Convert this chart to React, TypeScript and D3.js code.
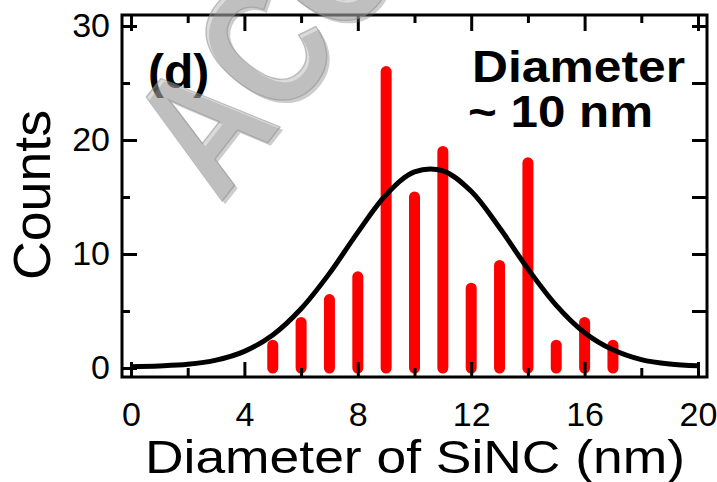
import * as d3 from "d3";
import { useEffect, useRef } from "react";

// histogram of SiNC diameters
const diameters = [5, 6, 7, 8, 9, 10, 11, 12, 13, 14, 15, 16, 17];
const counts = [2, 4, 6, 8, 26, 15, 19, 7, 9, 18, 2, 4, 2];

// gaussian fit at each nm
const fitX = [0, 1, 2, 3, 4, 5, 6, 7, 8, 9, 10, 11, 12, 13, 14, 15, 16, 17, 18, 19, 20];
const fitY = [0.12, 0.18, 0.32, 0.69, 1.46, 2.9, 5.2, 8.3, 11.9, 15.2, 17.2, 17.3, 15.5, 12.3, 8.7, 5.5, 3.1, 1.6, 0.74, 0.35, 0.19];

const xMajor = [0, 4, 8, 12, 16, 20];
const xMinor = [2, 6, 10, 14, 18];
const yMajor = [0, 10, 20, 30];
const yMinor = [5, 15, 25];

const font = "'Liberation Sans', Arial, Helvetica, sans-serif";

function App() {
  const svgRef = useRef<SVGSVGElement>(null);

  useEffect(() => {
    const svg = d3.select(svgRef.current);
    svg.selectAll("*").remove();

    const left = 122, right = 707, top = 15, bottom = 377;

    const x = d3.scaleLinear().domain([0, 20]).range([131, 698]);
    const y = d3.scaleLinear().domain([0, 30]).range([368, 26]);

    // bars
    svg.append("g")
      .selectAll("line")
      .data(diameters)
      .join("line")
      .attr("x1", (d) => x(d))
      .attr("x2", (d) => x(d))
      .attr("y1", y(0))
      .attr("y2", (d, i) => y(counts[i]))
      .attr("stroke", "#ff0000")
      .attr("stroke-width", 11)
      .attr("stroke-linecap", "round");

    // fit curve
    const fitLine = d3.line<number>()
      .x((d, i) => x(fitX[i]))
      .y((d) => y(d))
      .curve(d3.curveCatmullRom);

    svg.append("path")
      .datum(fitY)
      .attr("d", fitLine)
      .attr("fill", "none")
      .attr("stroke", "#000")
      .attr("stroke-width", 5);

    // axes, ticks inward
    const fmt = d3.format("d");
    const addAxis = (axis: any, tx: number, ty: number, labels: boolean) => {
      const g = svg.append("g").attr("transform", `translate(${tx},${ty})`).call(axis);
      g.select(".domain").remove();
      g.selectAll("line").attr("stroke", "#000").attr("stroke-width", 3);
      g.selectAll("text")
        .attr("fill", "#000")
        .style("font-family", font)
        .style("font-size", "34px");
      if (!labels) g.selectAll("text").remove();
      return g;
    };

    addAxis(d3.axisBottom(x).tickValues(xMajor).tickSize(-15).tickPadding(25).tickFormat(fmt), 0, bottom, true);
    addAxis(d3.axisBottom(x).tickValues(xMinor).tickSize(-9), 0, bottom, false);
    addAxis(d3.axisTop(x).tickValues(xMajor).tickSize(-16), 0, top, false);
    addAxis(d3.axisTop(x).tickValues(xMinor).tickSize(-8), 0, top, false);
    addAxis(d3.axisLeft(y).tickValues(yMajor).tickSize(-15).tickPadding(12).tickFormat(fmt), left, 0, true);
    addAxis(d3.axisLeft(y).tickValues(yMinor).tickSize(-8), left, 0, false);
    addAxis(d3.axisRight(y).tickValues([5, 10, 15, 20, 25, 30]).tickSize(-15), right, 0, false);

    svg.append("rect")
      .attr("x", left)
      .attr("y", top)
      .attr("width", right - left)
      .attr("height", bottom - top)
      .attr("fill", "none")
      .attr("stroke", "#000")
      .attr("stroke-width", 3);

    // labels
    svg.append("text")
      .attr("transform", "translate(50,195) rotate(-90)")
      .attr("text-anchor", "middle")
      .attr("textLength", 170)
      .attr("lengthAdjust", "spacingAndGlyphs")
      .style("font-family", font)
      .style("font-size", "52px")
      .text("Counts");

    svg.append("text")
      .attr("x", 415)
      .attr("y", 473)
      .attr("text-anchor", "middle")
      .attr("textLength", 540)
      .attr("lengthAdjust", "spacingAndGlyphs")
      .style("font-family", font)
      .style("font-size", "46px")
      .text("Diameter of SiNC (nm)");

    svg.append("text")
      .attr("x", 148)
      .attr("y", 88)
      .style("font-family", font)
      .style("font-weight", "bold")
      .style("font-size", "48px")
      .text("(d)");

    svg.append("text")
      .attr("x", 472)
      .attr("y", 82)
      .attr("textLength", 213)
      .attr("lengthAdjust", "spacingAndGlyphs")
      .style("font-family", font)
      .style("font-weight", "bold")
      .style("font-size", "45px")
      .text("Diameter");

    svg.append("text")
      .attr("x", 468)
      .attr("y", 127)
      .attr("textLength", 185)
      .attr("lengthAdjust", "spacingAndGlyphs")
      .style("font-family", font)
      .style("font-weight", "bold")
      .style("font-size", "45px")
      .text("~ 10 nm");

    // watermark: a soft shadow copy, then the light face on top
    const mark = "ACCEPTED MANUSCRIPT";
    svg.append("text")
      .attr("transform", "translate(223,207) rotate(-52) scale(0.78,1)")
      .style("font-family", font)
      .style("font-weight", "bold")
      .style("font-size", "180px")
      .attr("fill", "#707070")
      .attr("fill-opacity", 0.35)
      .text(mark);

    svg.append("text")
      .attr("transform", "translate(220,204) rotate(-52) scale(0.78,1)")
      .style("font-family", font)
      .style("font-weight", "bold")
      .style("font-size", "180px")
      .attr("fill", "#b0b0b0")
      .attr("fill-opacity", 0.45)
      .attr("stroke", "#8c8c8c")
      .attr("stroke-opacity", 0.5)
      .attr("stroke-width", 1.5)
      .text(mark);
  }, []);

  return (
    <svg
      ref={svgRef}
      width={717}
      height={482}
      style={{ position: "absolute", left: 0, top: 0, background: "#fff" }}
    />
  );
}

export default App;
